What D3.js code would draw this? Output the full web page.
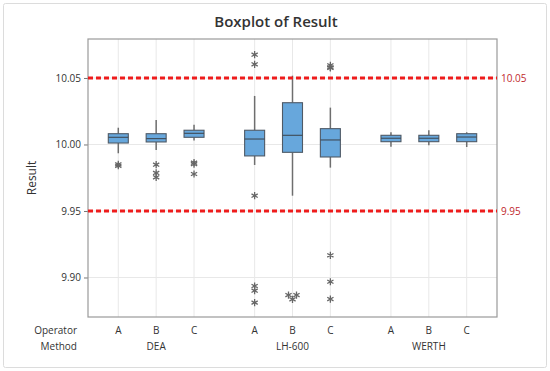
<!DOCTYPE html>
<html><head><meta charset="utf-8">
<script src="https://cdn.jsdelivr.net/npm/d3@7"></script>
<style>body{margin:0;background:#fff;font-family:"Open Sans","Noto Sans",sans-serif}</style>
</head><body>
<svg id="c" width="550" height="371"></svg>
<script>
const methods = ["DEA", "LH-600", "WERTH"];
const operators = ["A", "B", "C"];
// each: [method, operator, whiskerLow, q1, median, q3, whiskerHigh]
const boxStats = [
  ["DEA","A", 9.9934, 10.0011, 10.0054, 10.0081, 10.0126],
  ["DEA","B", 9.9959, 10.0019, 10.0044, 10.0081, 10.0184],
  ["DEA","C", 10.0029, 10.0054, 10.0084, 10.0107, 10.0149],
  ["LH-600","A", 9.9846, 9.9914, 10.0041, 10.0107, 10.0365],
  ["LH-600","B", 9.9615, 9.9941, 10.0069, 10.0314, 10.0517],
  ["LH-600","C", 9.9826, 9.9906, 10.0034, 10.0119, 10.0277],
  ["WERTH","A", 9.9983, 10.0021, 10.0047, 10.0069, 10.0092],
  ["WERTH","B", 9.9994, 10.0021, 10.0047, 10.0069, 10.0107],
  ["WERTH","C", 9.9981, 10.0021, 10.0056, 10.0081, 10.0092]
];
const outliers = [
  ["DEA","A",[9.9851, 9.9840]],
  ["DEA","B",[9.9848, 9.9786, 9.9753]],
  ["DEA","C",[9.9863, 9.9853, 9.9778]],
  ["LH-600","A",[10.0675, 10.0603, 9.9615, 9.8936, 9.8901, 9.8811]],
  ["LH-600","B",[9.8868, 9.8868, 9.8836]],
  ["LH-600","C",[10.0595, 10.0580, 10.0575, 9.9167, 9.8968, 9.8838]],
  ["WERTH","A",[]],["WERTH","B",[]],["WERTH","C",[]]
];
const refLines = [10.05, 9.95];
const yTicks = [9.90, 9.95, 10.00, 10.05];

const svg = d3.select("#c");
const L = 88, R = 497, T = 39, B = 317;
const pos = (m, o) => methods.indexOf(m) * 3.6 + operators.indexOf(o);
const x = d3.scaleLinear().domain([-0.8, 10.0]).range([L, R]);
const y = d3.scaleLinear().domain([9.8703, 10.0793]).range([B, T]);

// outer panel
svg.append("rect").attr("x", 3.5).attr("y", 3.5).attr("width", 543).attr("height", 364)
  .attr("fill", "#fff").attr("stroke", "#dcdcdc").attr("rx", 2);

// title
svg.append("text").attr("x", 276).attr("y", 27).attr("text-anchor", "middle")
  .attr("font-size", 15).attr("font-weight", 600).attr("fill", "#333").text("Boxplot of Result");

// gridlines
const g = svg.append("g");
g.selectAll(".hg").data(yTicks).join("line")
  .attr("x1", L).attr("x2", R).attr("y1", d => y(d)).attr("y2", d => y(d))
  .attr("stroke", "#e8e8e8");
const cats = [];
methods.forEach(m => operators.forEach(o => cats.push([m, o])));
g.selectAll(".vg").data(cats).join("line")
  .attr("x1", d => x(pos(d[0], d[1]))).attr("x2", d => x(pos(d[0], d[1])))
  .attr("y1", T).attr("y2", B).attr("stroke", "#e8e8e8");

// y axis
const yAxis = svg.append("g").attr("transform", `translate(${L},0)`)
  .call(d3.axisLeft(y).tickValues(yTicks).tickFormat(d3.format(".2f")).tickSize(4).tickPadding(3));
yAxis.select(".domain").remove();
yAxis.selectAll("line").attr("stroke", "#777");
yAxis.selectAll("text").attr("font-size", 10).attr("fill", "#333").attr("font-family", "Open Sans");

// frame
svg.append("rect").attr("x", L).attr("y", T).attr("width", R - L).attr("height", B - T)
  .attr("fill", "none").attr("stroke", "#9a9a9a").attr("stroke-width", 1.2);

// y label
svg.append("text").attr("transform", `translate(36,${(T + B) / 2}) rotate(-90)`)
  .attr("text-anchor", "middle").attr("font-size", 12).attr("fill", "#333").text("Result");

// boxes
const bw = 20;
const bx = svg.append("g");
boxStats.forEach(d => {
  const cx = x(pos(d[0], d[1]));
  bx.append("line").attr("x1", cx).attr("x2", cx).attr("y1", y(d[2])).attr("y2", y(d[3]))
    .attr("stroke", "#6e6e6e").attr("stroke-width", 1.5);
  bx.append("line").attr("x1", cx).attr("x2", cx).attr("y1", y(d[5])).attr("y2", y(d[6]))
    .attr("stroke", "#6e6e6e").attr("stroke-width", 1.5);
  bx.append("rect").attr("x", cx - bw / 2).attr("y", y(d[5])).attr("width", bw)
    .attr("height", y(d[3]) - y(d[5])).attr("fill", "#67a7dc").attr("stroke", "#4f5a66").attr("stroke-width", 1.1);
  bx.append("line").attr("x1", cx - bw / 2).attr("x2", cx + bw / 2).attr("y1", y(d[4])).attr("y2", y(d[4]))
    .attr("stroke", "#3f4a55").attr("stroke-width", 1.1);
});

// outliers (ties spread side by side)
const sym = d3.symbol().type(d3.symbolAsterisk).size(36);
outliers.forEach(d => {
  const cx = x(pos(d[0], d[1]));
  const counts = d3.rollup(d[2], v => v.length, v => v);
  const seen = new Map();
  d[2].forEach(v => {
    const n = counts.get(v), k = seen.get(v) || 0; seen.set(v, k + 1);
    const off = (k - (n - 1) / 2) * 8;
    bx.append("path").attr("d", sym).attr("transform", `translate(${cx + off},${y(v)})`)
      .attr("fill", "none").attr("stroke", "#666").attr("stroke-width", 1.3);
  });
});

// reference lines
svg.selectAll(".ref").data(refLines).join("line")
  .attr("x1", L).attr("x2", R).attr("y1", d => y(d)).attr("y2", d => y(d))
  .attr("stroke", "#ee1c1c").attr("stroke-width", 3).attr("stroke-dasharray", "5,3");
svg.selectAll(".reft").data(refLines).join("text")
  .attr("x", R + 4).attr("y", d => y(d) + 4).attr("font-size", 10).attr("fill", "#c0282d")
  .text(d => d3.format(".2f")(d));

// category labels
svg.append("text").attr("x", 77).attr("y", 334).attr("text-anchor", "end").attr("font-size", 10).attr("fill", "#333").text("Operator");
svg.append("text").attr("x", 77).attr("y", 350).attr("text-anchor", "end").attr("font-size", 10).attr("fill", "#333").text("Method");
svg.selectAll(".ol").data(cats).join("text")
  .attr("x", d => x(pos(d[0], d[1]))).attr("y", 334).attr("text-anchor", "middle")
  .attr("font-size", 10).attr("fill", "#333").text(d => d[1]);
svg.selectAll(".ml").data(methods).join("text")
  .attr("x", m => x(pos(m, "B"))).attr("y", 350).attr("text-anchor", "middle")
  .attr("font-size", 10).attr("fill", "#333").text(m => m);
</script>
</body></html>
